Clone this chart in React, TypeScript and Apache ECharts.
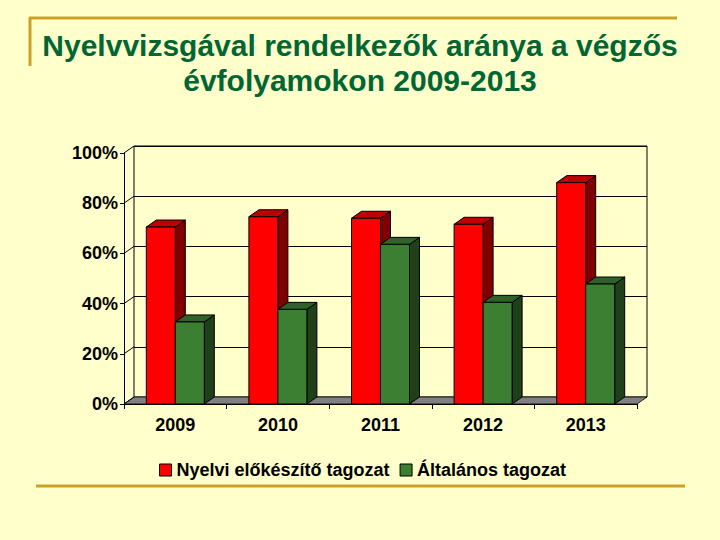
import React, { useEffect, useRef } from "react";
import * as echarts from "echarts";

const categories = ["2009", "2010", "2011", "2012", "2013"];
const nyelviValues = [70.5, 74.6, 74.0, 71.6, 88.2];
const altalanosValues = [32.7, 37.7, 63.6, 40.5, 47.8];
const seriesNames = ["Nyelvi előkészítő tagozat", "Általános tagozat"];
const yTicks = [0, 20, 40, 60, 80, 100];
const titleLines = ["Nyelvvizsgával rendelkezők aránya a végzős", "évfolyamokon 2009-2013"];

const FONT = "'Liberation Sans', Arial, sans-serif";
const BG = "#FFFFCC";
const GOLD = "#C9A227";
const FRONT = { left: 124, top: 153, width: 513, height: 251 };
const DX = 10;
const DY = 7;
const BAR_FRAC = 29 / 102.6;

const makeRender = (side: number, front: string, topC: string, sideC: string) =>
  (params: any, api: any) => {
    const idx = api.value(0);
    const val = api.value(1);
    const base = api.coord([idx, 0]);
    const top = api.coord([idx, val]);
    const band = api.size([1, 0])[0];
    const w = band * BAR_FRAC;
    const x0 = side < 0 ? base[0] - w : base[0];
    const ty = top[1];
    const by = base[1];
    const stroke = { stroke: "#000", lineWidth: 1 };
    return {
      type: "group",
      children: [
        {
          type: "polygon",
          shape: { points: [[x0 + w, ty], [x0 + w + DX, ty - DY], [x0 + w + DX, by - DY], [x0 + w, by]] },
          style: { fill: sideC, ...stroke },
        },
        {
          type: "polygon",
          shape: { points: [[x0, ty], [x0 + w, ty], [x0 + w + DX, ty - DY], [x0 + DX, ty - DY]] },
          style: { fill: topC, ...stroke },
        },
        {
          type: "rect",
          shape: { x: x0, y: ty, width: w, height: by - ty },
          style: { fill: front, ...stroke },
        },
      ],
    };
  };

export default function App() {
  const ref = useRef<HTMLDivElement>(null);
  useEffect(() => {
    if (!ref.current) return;
    const chart = echarts.init(ref.current, undefined, { renderer: "svg" });
    const fl = FRONT.left, ft = FRONT.top, fw = FRONT.width, fh = FRONT.height;
    const fb = ft + fh;
    const yOf = (v: number) => fb - (v / 100) * fh;

    const titleStyle = { fontFamily: FONT, fontSize: 30, fontWeight: "bold", fill: "#006633", align: "center", verticalAlign: "middle" };

    const graphics: any[] = [
      { type: "line", shape: { x1: 29, y1: 18, x2: 677, y2: 18 }, style: { stroke: GOLD, lineWidth: 3 }, z: 1 },
      { type: "line", shape: { x1: 30, y1: 17, x2: 30, y2: 66 }, style: { stroke: GOLD, lineWidth: 3 }, z: 1 },
      { type: "line", shape: { x1: 36, y1: 486, x2: 685, y2: 486 }, style: { stroke: GOLD, lineWidth: 3 }, z: 1 },
      { type: "text", x: 360, y: 45, style: { ...titleStyle, text: titleLines[0] }, z: 5 },
      { type: "text", x: 360, y: 80, style: { ...titleStyle, text: titleLines[1] }, z: 5 },
      {
        type: "polygon",
        shape: { points: [[fl, fb], [fl + fw, fb], [fl + fw + DX, fb - DY], [fl + DX, fb - DY]] },
        style: { fill: "#808080", stroke: "#000", lineWidth: 0.8 },
        z: 1,
      },
      ...yTicks.map((v) => ({
        type: "line",
        shape: { x1: fl, y1: yOf(v), x2: fl + DX, y2: yOf(v) - DY },
        style: { stroke: "#000", lineWidth: 1 },
        z: 1,
      })),
    ];

    chart.setOption({
      animation: false,
      backgroundColor: BG,
      legend: {
        data: seriesNames,
        left: 154,
        top: 456,
        icon: "rect",
        itemWidth: 12,
        itemHeight: 12,
        itemGap: 10,
        textStyle: { fontFamily: FONT, fontSize: 18, fontWeight: "bold", color: "#000" },
        itemStyle: { borderColor: "#000", borderWidth: 1 },
      },
      grid: [
        { left: fl, top: ft, width: fw, height: fh },
        {
          left: fl + DX,
          top: ft - DY,
          width: fw,
          height: fh,
          show: true,
          backgroundColor: BG,
          borderColor: "#000",
          borderWidth: 1,
        },
      ],
      xAxis: [
        {
          type: "category",
          gridIndex: 0,
          data: categories,
          z: 3,
          axisLine: { show: true, lineStyle: { color: "#000", width: 1 } },
          axisTick: { show: true, length: 5, lineStyle: { color: "#000" } },
          axisLabel: { fontFamily: FONT, fontSize: 18, fontWeight: "bold", color: "#000", margin: 12 },
        },
        {
          type: "category",
          gridIndex: 1,
          data: categories,
          axisLine: { show: false },
          axisTick: { show: false },
          axisLabel: { show: false },
        },
      ],
      yAxis: [
        {
          type: "value",
          gridIndex: 0,
          min: 0,
          max: 100,
          interval: 20,
          z: 3,
          axisLine: { show: true, lineStyle: { color: "#000", width: 1 } },
          axisTick: { show: true, length: 4, lineStyle: { color: "#000" } },
          axisLabel: {
            fontFamily: FONT,
            fontSize: 18,
            fontWeight: "bold",
            color: "#000",
            margin: 6,
            formatter: "{value}%",
          },
          splitLine: { show: false },
        },
        {
          type: "value",
          gridIndex: 1,
          min: 0,
          max: 100,
          interval: 20,
          axisLine: { show: false },
          axisTick: { show: false },
          axisLabel: { show: false },
          splitLine: { show: true, lineStyle: { color: "#000", width: 1 } },
        },
      ],
      graphic: graphics,
      series: [
        {
          name: seriesNames[0],
          type: "custom",
          xAxisIndex: 0,
          yAxisIndex: 0,
          z: 2,
          itemStyle: { color: "#FF0000" },
          encode: { x: 0, y: 1 },
          data: categories.map((_, i) => [i, nyelviValues[i]]),
          renderItem: makeRender(-1, "#FF0000", "#C00000", "#800000"),
        },
        {
          name: seriesNames[1],
          type: "custom",
          xAxisIndex: 0,
          yAxisIndex: 0,
          z: 2,
          itemStyle: { color: "#3C7F33" },
          encode: { x: 0, y: 1 },
          data: categories.map((_, i) => [i, altalanosValues[i]]),
          renderItem: makeRender(1, "#3C7F33", "#2F6228", "#1F4018"),
        },
      ],
    });
    return () => chart.dispose();
  }, []);
  return (
    <div
      ref={ref}
      style={{ position: "fixed", left: 0, top: 0, width: 720, height: 540 }}
    />
  );
}
